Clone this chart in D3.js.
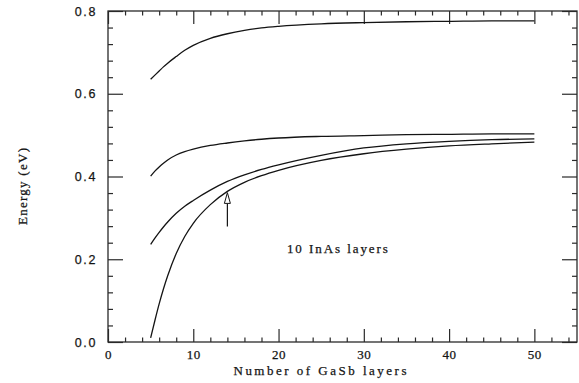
<!DOCTYPE html>
<html>
<head>
<meta charset="utf-8">
<script src="https://cdn.jsdelivr.net/npm/d3@7"></script>
<style>
  html, body { margin: 0; padding: 0; background: #fff; }
  svg { display: block; }
</style>
</head>
<body>
<svg id="chart" width="579" height="383"></svg>
<script>
// Subband energies versus GaSb layer count (10 InAs layers)
const layers = [5, 5.5, 6, 6.5, 7, 8, 9, 10, 12, 14, 16, 18, 20, 25, 30, 35, 40, 45, 50];

const band1 = [0.635, 0.645, 0.655, 0.665, 0.674, 0.690, 0.705, 0.717, 0.734, 0.745, 0.753, 0.759, 0.763, 0.769, 0.772, 0.774, 0.775, 0.776, 0.776];
const band2 = [0.401, 0.413, 0.423, 0.432, 0.440, 0.452, 0.460, 0.466, 0.475, 0.481, 0.486, 0.490, 0.493, 0.497, 0.499, 0.501, 0.502, 0.503, 0.503];
const band3 = [0.236, 0.251, 0.265, 0.278, 0.290, 0.311, 0.328, 0.342, 0.367, 0.388, 0.404, 0.417, 0.428, 0.451, 0.469, 0.479, 0.485, 0.489, 0.491];
const band4 = [0.010, 0.052, 0.092, 0.128, 0.160, 0.214, 0.255, 0.287, 0.332, 0.364, 0.386, 0.402, 0.415, 0.439, 0.455, 0.466, 0.474, 0.479, 0.483];

const seriesList = [band1, band2, band3, band4];

const xMajorTicks = [0, 10, 20, 30, 40, 50];
const yMajorTicks = [0, 0.2, 0.4, 0.6, 0.8];

const xTitle = "Number of GaSb layers";
const yTitle = "Energy (eV)";
const noteText = "10 InAs layers";
const noteAt = [26.9, 0.216];

// arrow marking the crossing region on the lowest band
const arrowX = 14;
const arrowTail = 0.279;
const arrowBase = 0.335;
const arrowTip = 0.361;

const svg = d3.select("#chart");
const plotLeft = 108, plotRight = 577, plotTop = 11, plotBottom = 342;

const x = d3.scaleLinear().domain([0, 55]).range([plotLeft, plotRight]);
const y = d3.scaleLinear().domain([0, 0.8]).range([plotBottom, plotTop]);

const ink = "#141414";
const frameInk = "#2a2a2a";

// minor tick positions
const xMinor = d3.range(0, 55, 2).filter(v => v % 10 !== 0);
const yMinor = d3.range(0, 0.8001, 0.04).filter(v => Math.abs(v / 0.2 - Math.round(v / 0.2)) > 1e-6);

function styleAxis(g) {
  g.select(".domain").remove();
  g.selectAll("line").attr("stroke", frameInk).attr("stroke-width", 1.2);
}

function styleText(sel, family, size, spacing) {
  sel.attr("font-family", family)
    .attr("font-size", size)
    .attr("letter-spacing", spacing)
    .attr("fill", ink)
    .attr("stroke", ink)
    .attr("stroke-width", 0.25);
}

// bottom axis with labels
svg.append("g")
  .attr("transform", `translate(0,${plotBottom})`)
  .call(d3.axisBottom(x).tickValues(xMajorTicks).tickSize(-13).tickPadding(8).tickFormat(d3.format("d")))
  .call(styleAxis)
  .call(g => styleText(g.selectAll("text"), "Liberation Serif, serif", 13, 0.6));
svg.append("g")
  .attr("transform", `translate(0,${plotBottom})`)
  .call(d3.axisBottom(x).tickValues(xMinor).tickSize(-4.5).tickFormat(""))
  .call(styleAxis);

// top axis, ticks only
svg.append("g")
  .attr("transform", `translate(0,${plotTop})`)
  .call(d3.axisTop(x).tickValues(xMajorTicks).tickSize(-13).tickFormat(""))
  .call(styleAxis);
svg.append("g")
  .attr("transform", `translate(0,${plotTop})`)
  .call(d3.axisTop(x).tickValues(xMinor).tickSize(-4.5).tickFormat(""))
  .call(styleAxis);

// left axis with labels
svg.append("g")
  .attr("transform", `translate(${plotLeft},0)`)
  .call(d3.axisLeft(y).tickValues(yMajorTicks).tickSize(-15).tickPadding(11).tickFormat(d3.format(".1f")))
  .call(styleAxis)
  .call(g => styleText(g.selectAll("text"), "Liberation Sans, Arial, sans-serif", 12.5, 1.6));
svg.append("g")
  .attr("transform", `translate(${plotLeft},0)`)
  .call(d3.axisLeft(y).tickValues(yMinor).tickSize(-5).tickFormat(""))
  .call(styleAxis);

// right axis, ticks only
svg.append("g")
  .attr("transform", `translate(${plotRight},0)`)
  .call(d3.axisRight(y).tickValues(yMajorTicks).tickSize(-15).tickFormat(""))
  .call(styleAxis);
svg.append("g")
  .attr("transform", `translate(${plotRight},0)`)
  .call(d3.axisRight(y).tickValues(yMinor).tickSize(-5).tickFormat(""))
  .call(styleAxis);

// plot frame
svg.append("rect")
  .attr("x", plotLeft).attr("y", plotTop)
  .attr("width", plotRight - plotLeft).attr("height", plotBottom - plotTop)
  .attr("fill", "none").attr("stroke", frameInk).attr("stroke-width", 1.3);

// band curves
const line = d3.line()
  .x(d => x(d[0]))
  .y(d => y(d[1]))
  .curve(d3.curveMonotoneX);

svg.append("g").selectAll("path")
  .data(seriesList)
  .join("path")
  .attr("d", s => line(layers.map((l, i) => [l, s[i]])))
  .attr("fill", "none")
  .attr("stroke", ink)
  .attr("stroke-width", 1.3);

// arrow
svg.append("line")
  .attr("x1", x(arrowX)).attr("x2", x(arrowX))
  .attr("y1", y(arrowTail)).attr("y2", y(arrowBase))
  .attr("stroke", ink).attr("stroke-width", 1.2);
svg.append("path")
  .attr("d", `M${x(arrowX)},${y(arrowTip)} L${x(arrowX) - 3},${y(arrowBase)} L${x(arrowX) + 3},${y(arrowBase)} Z`)
  .attr("fill", "#fff").attr("stroke", ink).attr("stroke-width", 1);

// annotation
svg.append("text")
  .attr("x", x(noteAt[0])).attr("y", y(noteAt[1]))
  .attr("text-anchor", "middle")
  .attr("textLength", 101)
  .attr("lengthAdjust", "spacing")
  .text(noteText)
  .call(s => styleText(s, "Liberation Serif, serif", 13, 0));

// axis titles
svg.append("text")
  .attr("x", 320).attr("y", 375)
  .attr("text-anchor", "middle")
  .attr("textLength", 173)
  .attr("lengthAdjust", "spacing")
  .text(xTitle)
  .call(s => styleText(s, "Liberation Serif, serif", 13, 0));

svg.append("text")
  .attr("transform", "translate(26.5,186.5) rotate(-90)")
  .attr("text-anchor", "middle")
  .attr("textLength", 77)
  .attr("lengthAdjust", "spacing")
  .text(yTitle)
  .call(s => styleText(s, "Liberation Serif, serif", 13, 0));
</script>
</body>
</html>
